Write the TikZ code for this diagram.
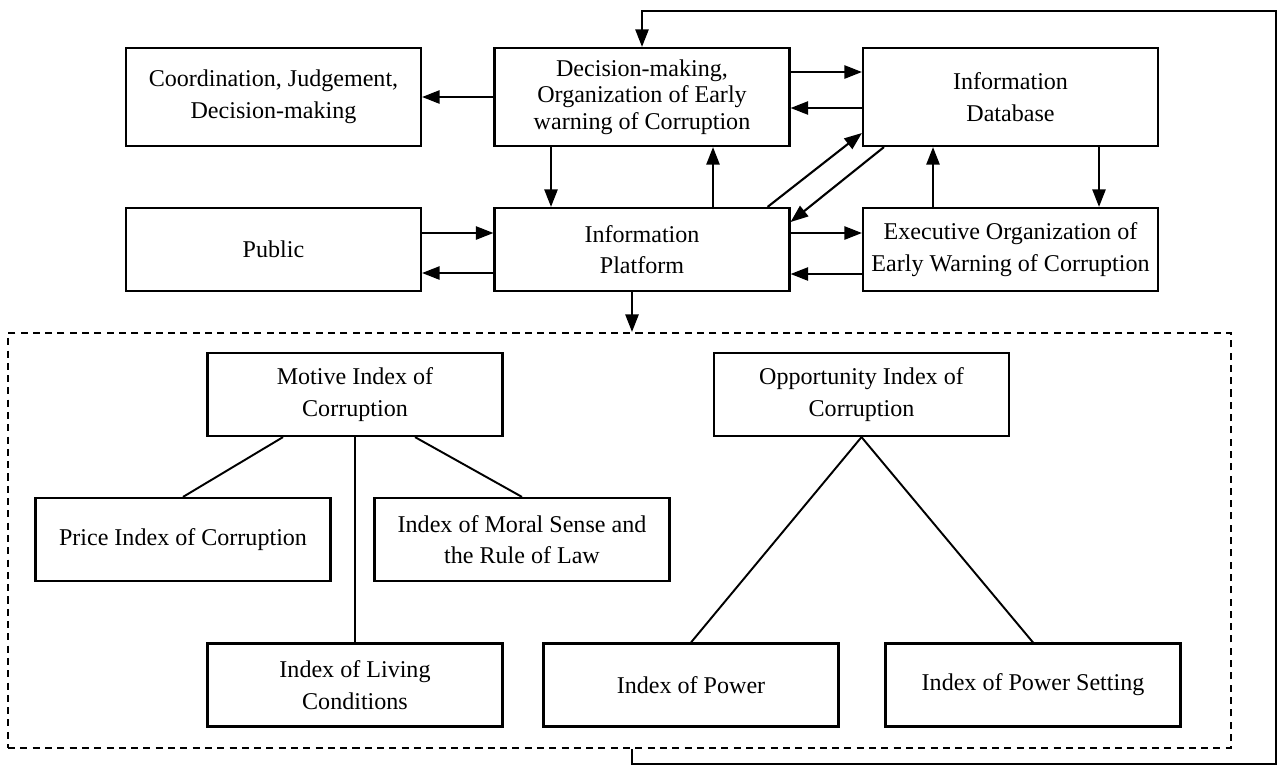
\documentclass[tikz,border=0pt]{standalone}
\usepackage{fontspec}
\setmainfont{Liberation Serif}
\usepackage{tikz}
\usetikzlibrary{arrows.meta,positioning,calc}

\tikzset{
  box/.style={rectangle, draw, line width=1.25pt, minimum width=5.9cm, minimum height=1.66cm, align=center, font=\fontsize{13.7}{18}\selectfont},
  tall/.style={minimum height=1.96cm},
  arr/.style={line width=1.2pt, -{Triangle[length=10pt,width=7.5pt]}},
  link/.style={line width=1.1pt}
}

\begin{document}
\begin{tikzpicture}[x=0.02cm, y=-0.02cm]
\useasboundingbox (0,0) rectangle (1277,765);

% Oben
\node[box, tall] (coord) at (273.5,97) {Coordination, Judgement,\\Decision-making};
\node[box, tall, font=\fontsize{13.7}{15}\selectfont] (dec) at (642,97) {Decision-making,\\Organization of Early\\warning of Corruption};
\node[box, tall] (db) at (1010.5,97) {Information\\Database};
\node[box] (pub) at (273.5,249.5) {Public};
\node[box] (plat) at (642,249.5) {Information\\Platform};
\node[box] (exec) at (1010.5,249.5) {Executive Organization of\\Early Warning of Corruption};

\draw[arr] (dec.west) -- (coord.east);
\draw[arr] (dec.east |- 0,72) -- (db.west |- 0,72);
\draw[arr] (db.west |- 0,108) -- (dec.east |- 0,108);
\draw[arr] (dec.south -| 551,0) -- (plat.north -| 551,0);
\draw[arr] (plat.north -| 713,0) -- (dec.south -| 713,0);
\draw[arr] ([xshift=-0.46cm]plat.north east) -- (db.west |- 0,133);
\draw[arr] ([xshift=0.44cm]db.south west) -- (plat.east |- 0,222);
\draw[arr] (pub.east |- 0,233) -- (plat.west |- 0,233);
\draw[arr] (plat.west |- 0,273) -- (pub.east |- 0,273);
\draw[arr] (plat.east |- 0,233) -- (exec.west |- 0,233);
\draw[arr] (exec.west |- 0,274) -- (plat.east |- 0,274);
\draw[arr] (exec.north -| 933,0) -- (db.south -| 933,0);
\draw[arr] (db.south -| 1099,0) -- (exec.north -| 1099,0);

% Indici
\node[draw, dashed, line width=1.25pt, dash pattern=on 4pt off 3pt, minimum width=24.46cm, minimum height=8.3cm] (grp) at (619.5,540.5) {};
\node[box] (motive) at (355,394.5) {Motive Index of\\Corruption};
\node[box] (opp) at (861.5,394.5) {Opportunity Index of\\Corruption};
\node[box] (price) at (183,539.5) {Price Index of Corruption};
\node[box] (moral) at (522,539.5) {Index of Moral Sense and\\the Rule of Law};
\node[box] (living) at (355,685) {Index of Living\\Conditions};
\node[box] (power) at (691,685) {Index of Power};
\node[box] (setting) at (1033,685) {Index of Power Setting};

\draw[link] (motive.south -| 283,0) -- (price.north);
\draw[link] (motive.south) -- (living.north);
\draw[link] (motive.south -| 415,0) -- (moral.north);
\draw[link] (opp.south) -- (power.north);
\draw[link] (opp.south) -- (setting.north);

% Rueckkopplung
\draw[arr] (plat.south -| 632,0) -- (grp.north -| 632,0);
\draw[arr] (grp.south -| 632,0) -- ++(0,15) -| (1276,11) -| (dec.north);
\end{tikzpicture}
\end{document}
